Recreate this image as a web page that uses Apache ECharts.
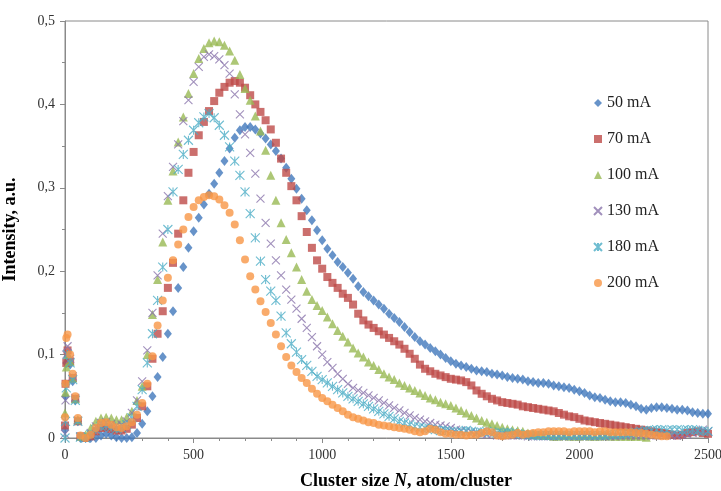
<!DOCTYPE html>
<html>
<head>
<meta charset="utf-8">
<script src="https://cdn.jsdelivr.net/npm/echarts@6/dist/echarts.min.js"></script>
<style>html,body{margin:0;padding:0;background:#fff;}#c{width:721px;height:491px;}</style>
</head>
<body>
<div id="c"></div>
<script>
// Cluster size N (atom/cluster)
const X = [0,2,5,10,20,30,40,50,
60,80,100,120,140,160,180,200,220,240,
260,280,300,320,340,360,380,400,420,440,
460,480,500,520,540,560,580,600,620,640,
660,680,700,720,740,760,780,800,820,840,
860,880,900,920,940,960,980,1000,1020,1040,
1060,1080,1100,1120,1140,1160,1180,1200,1220,1240,
1260,1280,1300,1320,1340,1360,1380,1400,1420,1440,
1460,1480,1500,1520,1540,1560,1580,1600,1620,1640,
1660,1680,1700,1720,1740,1760,1780,1800,1820,1840,
1860,1880,1900,1920,1940,1960,1980,2000,2020,2040,
2060,2080,2100,2120,2140,2160,2180,2200,2220,2240,
2260,2280,2300,2320,2340,2360,2380,2400,2420,2440,
2460,2480,2500];

const S50 = [0.01,0.05,0.09,0.098,0.088,0.068,0.045,0.02,
0,0,0,0,0.003,0.005,0.003,0.001,0,0,
0.001,0.006,0.017,0.032,0.05,0.073,0.097,0.125,0.152,0.18,
0.205,0.228,0.248,0.264,0.28,0.293,0.305,0.318,0.332,0.347,
0.36,0.369,0.373,0.373,0.37,0.365,0.359,0.352,0.344,0.335,
0.324,0.311,0.299,0.287,0.273,0.261,0.249,0.237,0.227,0.219,
0.211,0.205,0.198,0.191,0.182,0.175,0.17,0.165,0.16,0.155,
0.149,0.144,0.139,0.133,0.127,0.121,0.116,0.112,0.108,0.104,
0.1,0.096,0.092,0.089,0.087,0.085,0.083,0.081,0.08,0.079,
0.077,0.076,0.075,0.073,0.072,0.071,0.07,0.068,0.067,0.066,
0.066,0.065,0.063,0.062,0.061,0.06,0.058,0.056,0.054,0.051,
0.049,0.048,0.046,0.044,0.043,0.043,0.042,0.04,0.038,0.035,
0.034,0.036,0.037,0.037,0.036,0.035,0.034,0.034,0.033,0.031,
0.03,0.029,0.029];

const S70 = [0.015,0.065,0.09,0.105,0.092,0.072,0.047,0.02,
0.002,0,0.002,0.008,0.012,0.013,0.011,0.009,0.009,0.011,
0.016,0.024,0.038,0.062,0.095,0.125,0.152,0.18,0.21,0.245,
0.285,0.318,0.343,0.363,0.379,0.392,0.404,0.414,0.421,0.426,
0.428,0.426,0.42,0.411,0.4,0.391,0.381,0.37,0.354,0.335,
0.318,0.302,0.285,0.266,0.247,0.228,0.213,0.203,0.193,0.186,
0.18,0.173,0.168,0.16,0.149,0.141,0.136,0.132,0.128,0.124,
0.12,0.116,0.112,0.107,0.101,0.095,0.088,0.083,0.08,0.077,
0.075,0.073,0.071,0.07,0.069,0.067,0.063,0.057,0.053,0.05,
0.047,0.045,0.043,0.042,0.041,0.04,0.038,0.037,0.036,0.035,
0.034,0.033,0.032,0.03,0.028,0.026,0.025,0.023,0.021,0.02,
0.019,0.018,0.017,0.016,0.015,0.014,0.013,0.012,0.011,0.01,
0.009,0.008,0.007,0.006,0.005,0.004,0.003,0.004,0.006,0.007,
0.008,0.006,0.005];

const S100 = [0.03,0.055,0.085,0.1,0.092,0.072,0.047,0.022,
0.002,0.004,0.012,0.02,0.024,0.025,0.024,0.022,0.022,0.025,
0.032,0.045,0.062,0.1,0.148,0.19,0.235,0.285,0.32,0.355,
0.385,0.413,0.437,0.455,0.467,0.474,0.476,0.475,0.471,0.464,
0.453,0.436,0.419,0.405,0.386,0.368,0.345,0.315,0.285,0.258,
0.238,0.222,0.205,0.19,0.176,0.166,0.159,0.153,0.145,0.137,
0.129,0.122,0.115,0.108,0.102,0.097,0.091,0.087,0.082,0.077,
0.073,0.07,0.066,0.063,0.06,0.057,0.054,0.051,0.048,0.046,
0.043,0.041,0.039,0.036,0.033,0.03,0.027,0.024,0.021,0.019,
0.017,0.015,0.013,0.011,0.01,0.009,0.008,0.006,0.005,0.004,
0.003,0.003,0.002,0.002,0.003,0.002,0.002,0.002,0.003,0.002,
0.002,0.002,0.003,0.002,0.002,0.002,0.002,0.002,0.002,0.002,
0.001,null,null,null,null,null,null,null,null,null,
null,null,null];

const S130 = [0.005,0.045,0.1,0.11,0.095,0.074,0.048,0.021,
0.002,0,0.006,0.014,0.018,0.019,0.017,0.015,0.016,0.02,
0.03,0.045,0.068,0.105,0.15,0.195,0.245,0.29,0.325,0.352,
0.38,0.405,0.427,0.445,0.457,0.46,0.458,0.454,0.447,0.437,
0.412,0.388,0.364,0.342,0.317,0.287,0.258,0.233,0.213,0.195,
0.178,0.166,0.155,0.143,0.132,0.121,0.11,0.1,0.091,0.084,
0.077,0.071,0.065,0.06,0.057,0.054,0.051,0.048,0.045,0.042,
0.039,0.036,0.033,0.03,0.027,0.024,0.022,0.02,0.018,0.016,
0.015,0.014,0.012,0.01,0.009,0.008,0.007,0.006,0.005,0.004,
0.004,0.003,0.003,0.003,0.003,0.003,0.003,0.002,0.002,0.002,
0.002,0.002,0.002,0.002,0.002,0.002,0.002,0.002,0.002,0.002,
0.002,0.002,0.002,0.002,0.002,0.003,0.003,0.003,0.003,0.003,
0.003,0.003,0.003,0.003,0.003,0.003,0.003,0.004,0.004,0.006,
0.008,0.01,0.008];

const S180 = [0,0.02,0.06,0.1,0.09,0.07,0.045,0.02,
0.001,0,0.004,0.01,0.014,0.015,0.013,0.011,0.012,0.016,
0.024,0.038,0.058,0.09,0.125,0.165,0.205,0.25,0.295,0.322,
0.34,0.357,0.369,0.378,0.385,0.389,0.384,0.375,0.363,0.349,
0.332,0.315,0.295,0.269,0.24,0.212,0.19,0.176,0.165,0.146,
0.126,0.113,0.103,0.094,0.087,0.08,0.074,0.07,0.066,0.062,
0.058,0.054,0.05,0.047,0.044,0.041,0.038,0.035,0.032,0.029,
0.026,0.023,0.02,0.018,0.016,0.014,0.013,0.012,0.011,0.01,
0.009,0.009,0.008,0.007,0.008,0.009,0.008,0.007,0.007,0.008,
0.007,0.006,0.006,0.007,0.006,0.005,0.004,0.004,0.003,0.003,
0.003,0.003,0.003,0.003,0.003,0.003,0.003,0.003,0.003,0.003,
0.003,0.003,0.003,0.004,0.004,0.004,0.005,0.006,0.007,0.008,
0.009,0.009,0.01,0.01,0.009,0.01,0.01,0.009,0.01,0.01,
0.009,0.008,0.008];

const S200 = [0.025,0.065,0.12,0.124,0.1,0.077,0.05,0.024,
0.003,0,0.004,0.012,0.018,0.019,0.016,0.013,0.012,0.014,
0.019,0.028,0.042,0.065,0.098,0.135,0.165,0.192,0.213,0.232,
0.25,0.265,0.277,0.285,0.289,0.291,0.29,0.286,0.279,0.27,
0.256,0.237,0.214,0.194,0.178,0.164,0.151,0.138,0.124,0.11,
0.097,0.087,0.079,0.072,0.066,0.059,0.053,0.048,0.044,0.04,
0.036,0.032,0.028,0.025,0.023,0.021,0.019,0.018,0.016,0.015,
0.014,0.013,0.012,0.011,0.01,0.008,0.007,0.008,0.011,0.01,
0.007,0.005,0.005,0.004,0.004,0.003,0.004,0.004,0.006,0.008,
0.007,0.003,0.002,0.003,0.004,0.006,0.004,0.005,0.006,0.007,
0.007,0.008,0.008,0.008,0.008,0.007,0.008,0.008,0.008,0.008,
0.007,0.008,0.008,0.007,0.007,0.007,0.007,0.007,0.006,0.006,
0.005,0.004,0.003,0.002,0.002,null,null,null,null,null,
null,null,null];

const NAMES = ['50 mA','70 mA','100 mA','130 mA','180 mA','200 mA'];
const VALUES = [S50,S70,S100,S130,S180,S200];
const COLORS = ['#4178bb','#be4b48','#98b954','#8a74ab','#4bacc6','#f79646'];
const CROSS = 'path://M0,0L10,10M10,0L0,10';
const STAR = 'path://M0,0L10,10M10,0L0,10M5,0L5,10';
const SYMBOLS = ['diamond','rect','triangle',CROSS,STAR,'circle'];
const SIZES = [[8,10],8,9,8,9,8];
const Y_TICKS = [0,0.1,0.2,0.3,0.4,0.5];

const FONT = 'Liberation Serif';
const chart = echarts.init(document.getElementById('c'), null, {renderer:'canvas'});

const series = NAMES.map((name, k) => {
  const data = [];
  X.forEach((x, i) => { const v = VALUES[k][i]; if (v !== null && v !== undefined) data.push([x, v]); });
  const stroke = (k === 3 || k === 4);
  return {
    name, type: 'scatter', data,
    symbol: SYMBOLS[k], symbolSize: SIZES[k],
    itemStyle: stroke ? {color: 'rgba(255,255,255,0)', borderColor: COLORS[k], borderWidth: 1.1}
                      : {color: COLORS[k]},
    emphasis: {disabled: true}
  };
});

chart.setOption({
  animation: false,
  backgroundColor: '#fff',
  grid: {left: 65, right: 13, top: 21, bottom: 53, show: true, borderColor: '#8a8a8a', borderWidth: 1,
         containLabel: false, outerBoundsMode: 'none'},
  xAxis: {
    type: 'value', min: 0, max: 2500, interval: 500,
    axisLine: {show: true, lineStyle: {color: '#8a8a8a'}},
    axisTick: {show: true, length: 5, lineStyle: {color: '#8a8a8a'}},
    minorTick: {show: true, splitNumber: 5, length: 3, lineStyle: {color: '#8a8a8a'}},
    splitLine: {show: false},
    axisLabel: {fontFamily: FONT, fontSize: 14, color: '#333', margin: 10, formatter: v => String(v)}
  },
  yAxis: {
    type: 'value', min: 0, max: 0.5, interval: 0.1,
    axisLine: {show: true, lineStyle: {color: '#8a8a8a'}},
    axisTick: {show: true, length: 5, lineStyle: {color: '#8a8a8a'}},
    minorTick: {show: true, splitNumber: 2, length: 3, lineStyle: {color: '#8a8a8a'}},
    splitLine: {show: false},
    axisLabel: {fontFamily: FONT, fontSize: 14, color: '#333', margin: 10,
      formatter: v => { const t = Y_TICKS.find(a => Math.abs(a - v) < 1e-9); return (t === undefined ? v : t).toString().replace('.', ','); }},
    name: 'Intensity, a.u.', nameLocation: 'middle', nameGap: 46,
    nameTextStyle: {fontFamily: FONT, fontWeight: 'bold', fontSize: 18, color: '#000'}
  },
  legend: {
    orient: 'vertical', left: 588, top: 90, itemGap: 20, itemWidth: 8, itemHeight: 8,
    textStyle: {fontFamily: FONT, fontSize: 16, color: '#222', lineHeight: 16},
    data: NAMES.map((n, k) => ({name: n, icon: ['diamond','rect','triangle',CROSS,STAR,'circle'][k]}))
  },
  graphic: [{
    type: 'text', left: 300, top: 472,
    style: {
      text: '{b|Cluster size }{i|N}{b|, atom/cluster}',
      rich: {
        b: {fontFamily: FONT, fontWeight: 'bold', fontSize: 18, fill: '#000'},
        i: {fontFamily: FONT, fontWeight: 'bold', fontStyle: 'italic', fontSize: 18, fill: '#000'}
      }
    }
  }],
  series
});
</script>
</body>
</html>
